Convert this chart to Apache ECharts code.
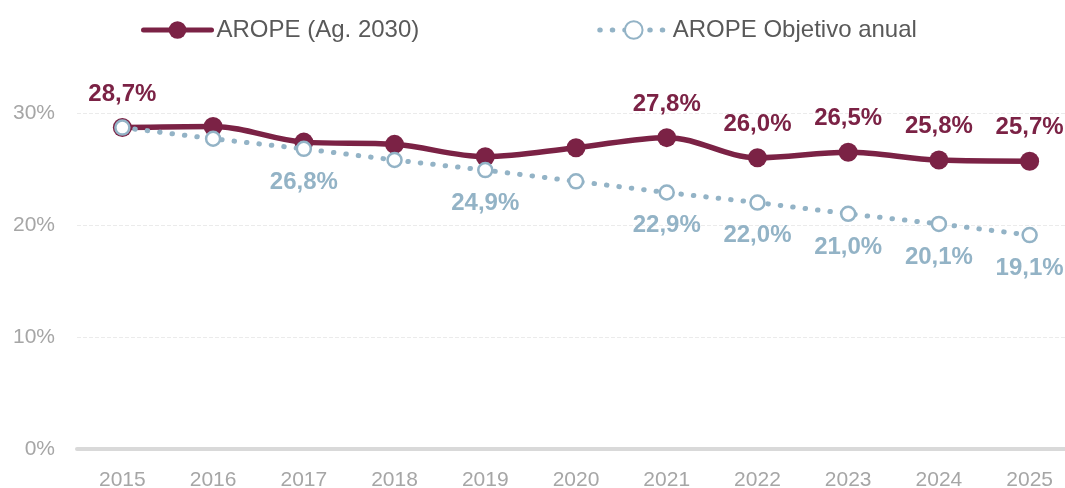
<!DOCTYPE html>
<html><head><meta charset="utf-8">
<script src="https://cdn.jsdelivr.net/npm/echarts@6/dist/echarts.min.js"></script>
<style>html,body{margin:0;padding:0;background:#fff}#c{width:1065px;height:488px}</style>
</head><body><div id="c"></div>
<script>
const years = ['2015','2016','2017','2018','2019','2020','2021','2022','2023','2024','2025'];
const aropeValues = [28.7, 28.8, 27.4, 27.2, 26.1, 26.9, 27.8, 26.0, 26.5, 25.8, 25.7];
const objetivoValues = [28.7, 27.7, 26.8, 25.8, 24.9, 23.9, 22.9, 22.0, 21.0, 20.1, 19.1];
const aropeLabelYears = ['2015','2021','2022','2023','2024','2025'];
const objetivoLabelYears = ['2017','2019','2021','2022','2023','2024','2025'];
const yTicks = [0, 10, 20, 30];

const MAIN = '#7B2245', OBJ = '#93B3C6';
const fmt = v => v.toFixed(1).replace('.', ',') + '%';
const font = "'Liberation Sans', Arial, sans-serif";

const chart = echarts.init(document.getElementById('c'));
chart.setOption({
  animation: false,
  legend: {
    top: 13, left: 136, itemGap: 178, itemWidth: 68, itemHeight: 22,
    textStyle: { fontFamily: font, fontSize: 24, color: '#595959', padding: [0,0,0,0] },
    data: [
      { name: 'AROPE (Ag. 2030)', lineStyle: { width: 5 } },
      { name: 'AROPE Objetivo anual', lineStyle: { width: 5 } }
    ]
  },
  grid: { left: 77, width: 998, top: 113, height: 336, outerBoundsMode: 'none' },
  xAxis: {
    type: 'category', data: years, boundaryGap: true,
    axisLine: { show: true, lineStyle: { color: '#D9D9D9', width: 4 } },
    axisTick: { show: false },
    axisLabel: { color: '#A6A6A6', fontFamily: font, fontSize: 21, margin: 21 }
  },
  yAxis: {
    type: 'value', min: yTicks[0], max: yTicks[yTicks.length-1], interval: 10,
    axisLine: { show: false }, axisTick: { show: false },
    axisLabel: { color: '#A6A6A6', fontFamily: font, fontSize: 21, margin: 22, formatter: v => v + '%' },
    splitLine: { lineStyle: { color: '#EBEBEB', type: [4, 2], width: 1 } }
  },
  series: [
    {
      name: 'AROPE (Ag. 2030)', type: 'line', smooth: 0.35, z: 2,
      data: aropeValues.map((v, i) => ({ value: v, label: { show: aropeLabelYears.includes(years[i]) } })),
      symbol: 'circle', symbolSize: 19,
      lineStyle: { color: MAIN, width: 5.5, cap: 'round' },
      itemStyle: { color: MAIN, borderWidth: 0 },
      label: { position: 'top', distance: 12, color: MAIN, fontFamily: font, fontWeight: 'bold', fontSize: 24, formatter: p => fmt(p.value) }
    },
    {
      name: 'AROPE Objetivo anual', type: 'line', z: 3,
      data: objetivoValues.map((v, i) => ({ value: v, label: { show: objetivoLabelYears.includes(years[i]) } })),
      symbol: 'circle', symbolSize: 14,
      lineStyle: { color: OBJ, width: 5, type: [0.5, 12], cap: 'round' },
      itemStyle: { color: '#fff', borderColor: OBJ, borderWidth: 2.5 },
      label: { position: 'bottom', distance: 13, color: OBJ, fontFamily: font, fontWeight: 'bold', fontSize: 24, formatter: p => fmt(p.value) }
    }
  ]
});
</script></body></html>
